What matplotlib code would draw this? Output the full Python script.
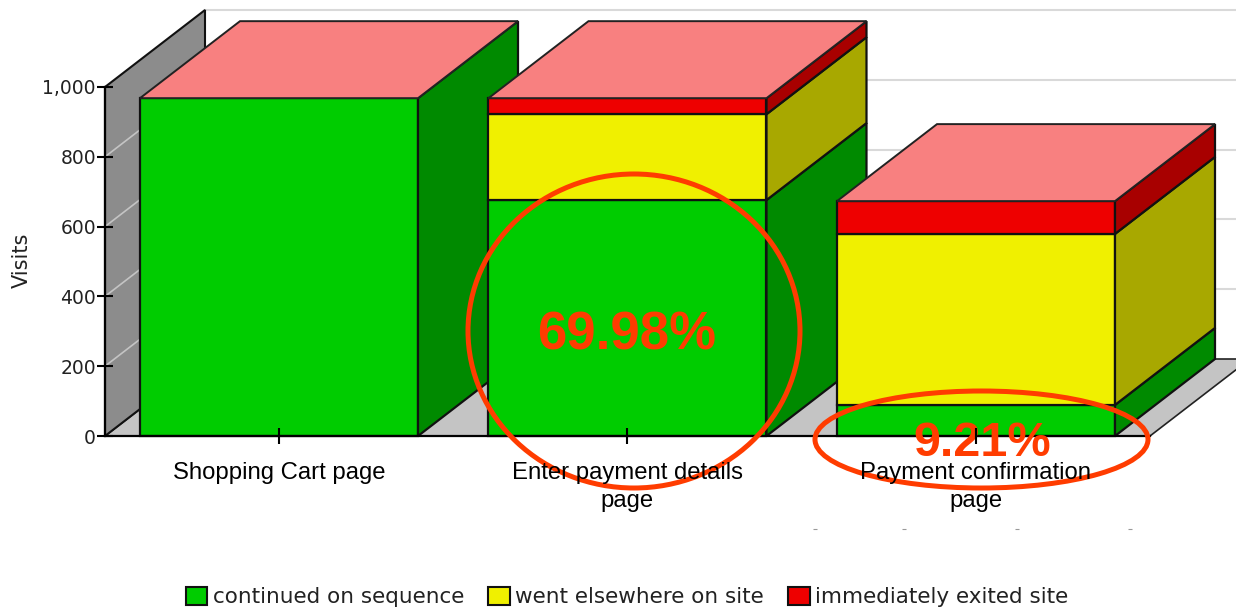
import matplotlib
matplotlib.use('Agg')
import matplotlib.pyplot as plt
from matplotlib.patches import Polygon, Ellipse, Patch

# Valores
categorias = ['Shopping Cart page', 'Enter payment details\npage', 'Payment confirmation\npage']
continued = [968, 676, 89]
elsewhere = [0, 246, 490]
exited = [0, 46, 94]
series = ['continued on sequence', 'went elsewhere on site', 'immediately exited site']
y_ticks = [0, 200, 400, 600, 800, 1000]
y_labels = ['0', '200', '400', '600', '800', '1,000']

VERDE, VERDE_OSC = '#00CC00', '#008A00'
AMARILLO, AMARILLO_OSC = '#F0F000', '#A8A800'
ROJO, ROJO_OSC = '#EE0000', '#A80000'
ROSA = '#F88080'
NARANJA = '#FF3C00'

W, H = 1236, 611
# escala: x en categorias (348.5 px por categoria), y en visitas (0.349 px por visita)
PX_X, PX_Y = 348.5, 0.349
def dx(px):
    return (px - 279) / PX_X
def dy(py):
    return (436 - py) / PX_Y

fig = plt.figure(figsize=(W / 100, H / 100), dpi=100)
ax = fig.add_axes([0, 0, 1, 1])
ax.set_xlim(dx(0), dx(W))
ax.set_ylim(dy(H), dy(0))

ancho = 278 / PX_X
prof_x = 100 / PX_X
prof_y = 77 / PX_Y
x_muro = dx(105)
x_fin = dx(1150)
tope = 1000

# pared trasera, pared izquierda y suelo
for t in y_ticks[1:]:
    ax.plot([x_muro + prof_x, dx(W)], [t + prof_y, t + prof_y], color='#d9d9d9', lw=1.5, zorder=1)
ax.add_patch(Polygon([(x_fin, 0), (x_muro, 0), (x_muro + prof_x, prof_y), (x_fin + prof_x, prof_y)],
                     fc='#C4C4C4', ec='#222222', lw=1.2, zorder=2))
ax.add_patch(Polygon([(x_muro, 0), (x_muro, tope), (x_muro + prof_x, tope + prof_y), (x_muro + prof_x, prof_y)],
                     fc='#8C8C8C', ec='#111111', lw=1.5, zorder=2))
for t in y_ticks[1:-1]:
    ax.plot([x_muro, x_muro + prof_x], [t, t + prof_y], color='#c4c4c4', lw=1.2, zorder=2.5)

# barras apiladas con cara frontal, lateral y superior
for i in range(len(categorias)):
    x0 = i - ancho / 2
    x1 = i + ancho / 2
    z = 3 + i
    base = 0
    for val, c, c2 in [(continued[i], VERDE, VERDE_OSC), (elsewhere[i], AMARILLO, AMARILLO_OSC), (exited[i], ROJO, ROJO_OSC)]:
        if val == 0:
            continue
        arriba = base + val
        ax.add_patch(Polygon([(x0, base), (x1, base), (x1, arriba), (x0, arriba)],
                             fc=c, ec='#111111', lw=1.6, zorder=z))
        ax.add_patch(Polygon([(x1, base), (x1 + prof_x, base + prof_y), (x1 + prof_x, arriba + prof_y), (x1, arriba)],
                             fc=c2, ec='#111111', lw=1.6, zorder=z))
        base = arriba
    ax.add_patch(Polygon([(x0, base), (x1, base), (x1 + prof_x, base + prof_y), (x0 + prof_x, base + prof_y)],
                         fc=ROSA, ec='#222222', lw=1.4, zorder=z))

# ejes
for lado in ['top', 'right']:
    ax.spines[lado].set_visible(False)
ax.spines['left'].set_position(('data', x_muro))
ax.spines['left'].set_bounds(0, tope)
ax.spines['bottom'].set_position(('data', 0))
ax.spines['bottom'].set_bounds(x_muro, x_fin)
for lado in ['left', 'bottom']:
    ax.spines[lado].set_linewidth(1.6)
    ax.spines[lado].set_zorder(8)
ax.set_yticks(y_ticks)
ax.set_yticklabels(y_labels, fontsize=13.5, color='#222222')
ax.set_xticks(range(len(categorias)))
ax.set_xticklabels(categorias, fontsize=17.2, family='Liberation Sans', linespacing=1.35)
ax.tick_params(axis='y', direction='inout', length=11, width=1.5, pad=1)
ax.tick_params(axis='x', direction='inout', length=11, width=1.5, pad=13)
ax.xaxis.set_zorder(11)
ax.yaxis.set_zorder(11)
ax.text(dx(22), dy(260), 'Visits', rotation=90, ha='center', va='center', fontsize=15, color='#222222')

# marcas sueltas bajo las etiquetas
ax.plot([dx(815), dx(904), dx(1017), dx(1130)], [dy(529)] * 4, ls='none', marker='_', ms=3, mew=0.8, color='#999999')

# anotaciones en naranja
ax.add_patch(Ellipse((dx(634), dy(331)), 332 / PX_X, 314 / PX_Y, fc='none', ec=NARANJA, lw=3.6, zorder=9))
ax.add_patch(Ellipse((dx(981.5), dy(439.5)), 333 / PX_X, 97 / PX_Y, fc='none', ec=NARANJA, lw=3.6, zorder=9))
ax.text(dx(626.5), dy(335), '69.98%', color=NARANJA, fontsize=38, fontweight='bold', family='Liberation Sans',
        ha='center', va='center', zorder=10)
ax.text(dx(982), dy(443), '9.21%', color=NARANJA, fontsize=35, fontweight='bold', family='Liberation Sans',
        ha='center', va='center', zorder=10)

handles = [Patch(fc=c, ec='#111111', lw=1.5) for c in [VERDE, AMARILLO, ROJO]]
ax.legend(handles, series, ncol=3, frameon=False, loc='center', bbox_to_anchor=(627 / W, 1 - 597 / H),
          fontsize=15.5, handlelength=1.0, handleheight=0.95, handletextpad=0.24, columnspacing=1.13,
          labelcolor='#222222', borderpad=0)

fig.savefig('out.png', dpi=100)
